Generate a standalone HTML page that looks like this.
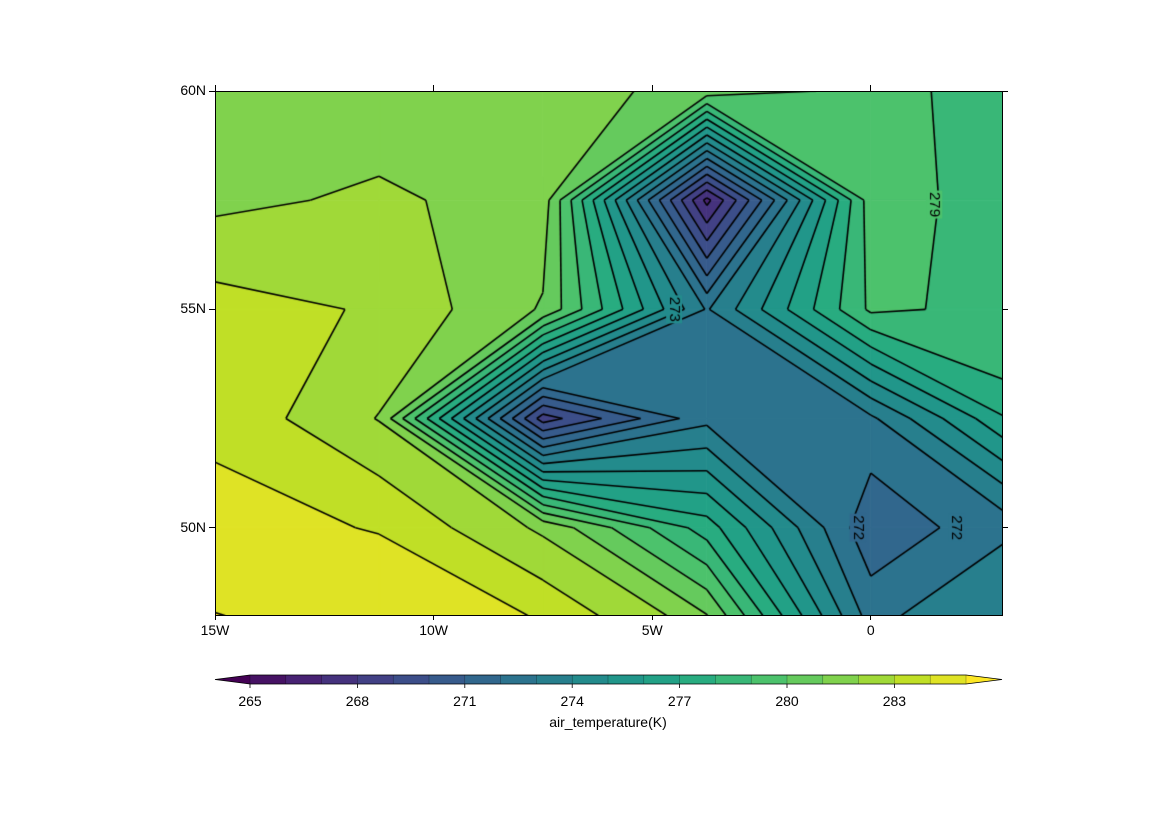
<!DOCTYPE html>
<html><head><meta charset="utf-8">
<style>
body{margin:0;background:#fff;font-family:"Liberation Sans",sans-serif;}
#wrap{position:relative;width:1170px;height:830px;overflow:hidden;background:#fff;}
.t{position:absolute;font-size:14px;color:#000;white-space:nowrap;}
.tk{position:absolute;background:#000;}
</style></head>
<body>
<div id="wrap">
<canvas id="plot" width="787" height="524" style="position:absolute;left:215px;top:91px"></canvas>
<div style="position:absolute;left:215px;top:91px;width:786px;height:523px;border:1px solid #000"></div>
<svg id="cbar" width="1170" height="830" style="position:absolute;left:0;top:0"></svg>
<div id="labels"></div>
</div>
<script>
const lons=[-15,-11.25,-7.5,-3.75,0,3.75];
const lats=[60,57.5,55,52.5,50,47.5];
const temps=[
[281.5,281.36,281.5,280.6,279.7,277.8],
[281.75,282.18,281.55,266.7,279.55,278.22],
[283.42,282.89,280.9,272.9,279.2,278.6],
[283.8,281.95,268.5,272.7,272.8,277.8],
[284.3,283.95,281.8,277.5,271.2,273.1],
[285.2,284.8,284.3,281.9,273.0,274.5]];
const levels=[];for(let v=265;v<=285;v++)levels.push(v);
const cbTicks=[265,268,271,274,277,280,283];
const xTickLons=[-15,-10,-5,0];const xTickLabels=['15W','10W','5W','0'];
const yTickLats=[60,55,50];const yTickLabels=['60N','55N','50N'];
const contourLabels=['279','272','272','273'];
const contourLabelLon=[1.45,-0.3,1.95,-4.5];
const contourLabelLat=[57.4,50.0,50.0,55.0];

const PX=(1002-215)/18,PY=(615-91)/12,X0=215,Y0=91;
const vir=[[68,1,84],[72,36,117],[65,68,135],[53,95,141],[42,120,142],[33,145,140],[34,168,132],[68,191,112],[122,209,81],[189,223,38],[253,231,37]];
function cmap(t){t=Math.max(0,Math.min(1,t));const s=t*10,i=Math.min(9,Math.floor(s)),f=s-i;
 return vir[i].map((c,k)=>Math.round(c+(vir[i+1][k]-c)*f));}
function bandColor(k){return cmap(k/levels.length);}
function layerColor(v){let k=0;while(k<levels.length&&v>=levels[k])k++;return bandColor(k);}
function rgb(c){return `rgb(${c[0]},${c[1]},${c[2]})`;}
function gx(lon){return (lon+15)*PX;} function gy(lat){return (60-lat)*PY;}
function clip(poly,test,L){const out=[];
 for(let i=0;i<poly.length;i++){const p=poly[i],q=poly[(i+1)%poly.length];
  const pi=test(p[2]),qi=test(q[2]);
  if(pi)out.push(p);
  if(pi!==qi){const f=(L-p[2])/(q[2]-p[2]);out.push([p[0]+(q[0]-p[0])*f,p[1]+(q[1]-p[1])*f,L]);}}
 return out;}
const cv=document.getElementById('plot'),ctx=cv.getContext('2d');
for(let i=0;i<lats.length-1;i++)for(let j=0;j<lons.length-1;j++){
 const P=[[i,j],[i,j+1],[i+1,j+1],[i+1,j]].map(a=>[gx(lons[a[1]]),gy(lats[a[0]]),temps[a[0]][a[1]]]);
 for(let k=0;k<=levels.length;k++){
  let poly=P;
  if(k>0){const lo=levels[k-1];poly=clip(poly,v=>v>=lo,lo);}
  if(k<levels.length&&poly.length){const hi=levels[k];poly=clip(poly,v=>v<hi,hi);}
  if(poly.length<3)continue;
  ctx.beginPath();ctx.moveTo(poly[0][0],poly[0][1]);for(let m=1;m<poly.length;m++)ctx.lineTo(poly[m][0],poly[m][1]);ctx.closePath();
  const c=rgb(bandColor(k));ctx.fillStyle=c;ctx.strokeStyle=c;ctx.lineWidth=0.8;ctx.fill();ctx.stroke();
 }}
ctx.strokeStyle='#000';ctx.lineWidth=1.6;ctx.lineJoin='round';
for(const L of levels){for(let i=0;i<lats.length-1;i++)for(let j=0;j<lons.length-1;j++){
 const P=[[i,j],[i,j+1],[i+1,j+1],[i+1,j]];const pts=[];
 for(let e=0;e<4;e++){const a=P[e],b=P[(e+1)%4];const va=temps[a[0]][a[1]],vb=temps[b[0]][b[1]];
  if((va<L)!==(vb<L)){const f=(L-va)/(vb-va);
   const lon=lons[a[1]]+(lons[b[1]]-lons[a[1]])*f,lat=lats[a[0]]+(lats[b[0]]-lats[a[0]])*f;
   pts.push([gx(lon),gy(lat)]);}}
 for(let k=0;k+1<pts.length;k+=2){ctx.beginPath();ctx.moveTo(pts[k][0],pts[k][1]);ctx.lineTo(pts[k+1][0],pts[k+1][1]);ctx.stroke();}
}}
function val(lon,lat){let fj=(lon-lons[0])/3.75,fi=(lats[0]-lat)/2.5;
 let j=Math.max(0,Math.min(lons.length-2,Math.floor(fj))),i=Math.max(0,Math.min(lats.length-2,Math.floor(fi)));
 let u=fj-j,w=fi-i;
 return temps[i][j]*(1-u)*(1-w)+temps[i][j+1]*u*(1-w)+temps[i+1][j]*(1-u)*w+temps[i+1][j+1]*u*w;}
ctx.font='15px "Liberation Sans", sans-serif';ctx.textAlign='center';ctx.textBaseline='middle';
contourLabels.forEach((s,k)=>{const x=gx(contourLabelLon[k]),y=gy(contourLabelLat[k]);
 ctx.save();ctx.translate(x,y);ctx.rotate(Math.PI/2);
 ctx.fillStyle=rgb(layerColor(val(contourLabelLon[k],contourLabelLat[k])));ctx.fillRect(-14,-8,28,16);
 ctx.fillStyle='#000';ctx.fillText(s,0,0);ctx.restore();});
// axis ticks and labels
const lab=document.getElementById('labels');
function addEl(html,name){const d=document.createElement('div');d.innerHTML=html;const e=d.firstChild;
 
 
 lab.appendChild(e);}
xTickLons.forEach((lon,k)=>{const x=X0+gx(lon);
 addEl(`<div class="tk" style="left:${x-0.5}px;top:615px;width:1px;height:5px"></div>`,'x-tick');
 addEl(`<div class="tk" style="left:${x-0.5}px;top:85px;width:1px;height:6px"></div>`,'x-tick-top');
 addEl(`<div class="t" style="left:${x-30}px;width:60px;text-align:center;top:622px">${xTickLabels[k]}</div>`,'x-tick-label');});
yTickLats.forEach((lat,k)=>{const y=Y0+gy(lat);
 addEl(`<div class="tk" style="left:209px;top:${y-0.5}px;width:6px;height:1px"></div>`,'y-tick');
 addEl(`<div class="tk" style="left:1002px;top:${y-0.5}px;width:6px;height:1px"></div>`,'y-tick-right');
 addEl(`<div class="t" style="left:140px;width:66px;text-align:right;top:${y-9}px">${yTickLabels[k]}</div>`,'y-tick-label');});
// colorbar
const svg=document.getElementById('cbar'),NS='http://www.w3.org/2000/svg';
const CB0=250,CB1=966,CBY=675,CBH=9,CW=(CB1-CB0)/(levels.length-1);
function cbx(v){return CB0+(v-levels[0])*CW;}
function mk(tag,attrs,name){const e=document.createElementNS(NS,tag);for(const k in attrs)e.setAttribute(k,attrs[k]);
 
 
 svg.appendChild(e);return e;}
mk('polygon',{points:`215,${CBY+CBH/2} ${CB0},${CBY} ${CB0},${CBY+CBH}`,fill:rgb(cmap(0))},'colorbar-extend-low');
for(let k=0;k<levels.length-1;k++){mk('rect',{x:cbx(levels[k]),y:CBY,width:CW+0.5,height:CBH,fill:rgb(bandColor(k+1))},'colorbar-segment');}
mk('polygon',{points:`1002,${CBY+CBH/2} ${CB1},${CBY} ${CB1},${CBY+CBH}`,fill:rgb(cmap(1))},'colorbar-extend-high');
mk('polygon',{points:`215,${CBY+CBH/2} ${CB0},${CBY} ${CB1},${CBY} 1002,${CBY+CBH/2} ${CB1},${CBY+CBH} ${CB0},${CBY+CBH}`,fill:'none',stroke:'#000','stroke-width':0.8},'colorbar-outline');
levels.forEach(v=>{const x=cbx(v);mk('line',{x1:x,x2:x,y1:CBY,y2:CBY+CBH,stroke:'#000','stroke-width':0.5,'stroke-opacity':0.5},'colorbar-divider');});
cbTicks.forEach(v=>{const x=cbx(v);mk('line',{x1:x,x2:x,y1:CBY+CBH,y2:CBY+CBH+4,stroke:'#000','stroke-width':0.8},'colorbar-tick');
 const t=mk('text',{x:x,y:706,'text-anchor':'middle','font-size':14,'font-family':'Liberation Sans, sans-serif'},'colorbar-tick-label');t.textContent=v;});
const tt=mk('text',{x:608,y:727,'text-anchor':'middle','font-size':14,'font-family':'Liberation Sans, sans-serif'},'colorbar-title');tt.textContent='air_temperature(K)';
</script>
</body></html>
